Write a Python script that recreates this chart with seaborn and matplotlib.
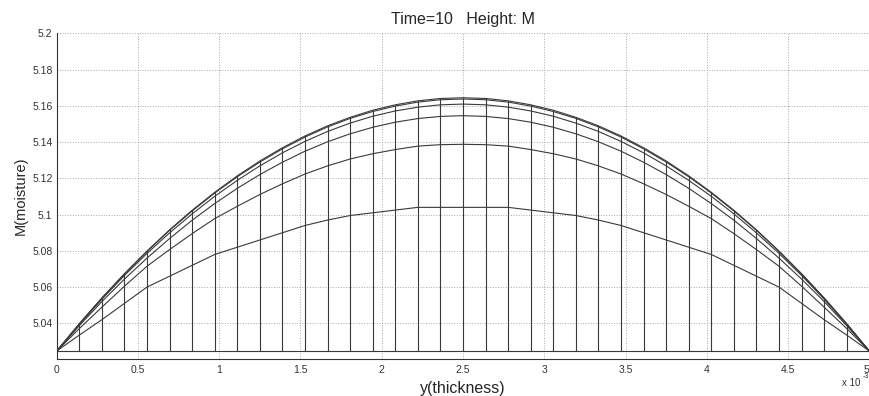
import matplotlib
matplotlib.use('Agg')
import matplotlib.pyplot as plt
import seaborn as sns
import pandas as pd

# grid along the thickness (units of 1e-3)
thickness = [0, 0.1389, 0.2778, 0.4167, 0.5556, 0.6944, 0.8333, 0.9722, 1.1111,
             1.25, 1.3889, 1.5278, 1.6667, 1.8056, 1.9444, 2.0833, 2.2222, 2.3611,
             2.5, 2.6389, 2.7778, 2.9167, 3.0556, 3.1944, 3.3333, 3.4722, 3.6111,
             3.75, 3.8889, 4.0278, 4.1667, 4.3056, 4.4444, 4.5833, 4.7222, 4.8611, 5]

# moisture rows of the mesh
m_row0 = [5.0247] * 37
m_row1 = [5.0247, 5.0335, 5.0420, 5.0510, 5.0600, 5.0660, 5.0720, 5.0780, 5.0820,
          5.0860, 5.0900, 5.0940, 5.0970, 5.0995, 5.1010, 5.1025, 5.1040, 5.1040,
          5.1040, 5.1040, 5.1040, 5.1025, 5.1010, 5.0995, 5.0970, 5.0940, 5.0900,
          5.0860, 5.0820, 5.0780, 5.0720, 5.0660, 5.0600, 5.0510, 5.0420, 5.0335, 5.0247]
m_row2 = [5.0247, 5.0371, 5.0489, 5.0605, 5.0715, 5.0807, 5.0895, 5.0978, 5.1046,
          5.1111, 5.1170, 5.1224, 5.1269, 5.1307, 5.1336, 5.1359, 5.1378, 5.1386,
          5.1388, 5.1386, 5.1378, 5.1359, 5.1336, 5.1307, 5.1269, 5.1224, 5.1170,
          5.1111, 5.1046, 5.0978, 5.0895, 5.0807, 5.0715, 5.0605, 5.0489, 5.0371, 5.0247]
m_row3 = [5.0247, 5.0387, 5.0520, 5.0644, 5.0760, 5.0868, 5.0969, 5.1061, 5.1145,
          5.1221, 5.1289, 5.1350, 5.1402, 5.1446, 5.1482, 5.1510, 5.1530, 5.1542,
          5.1546, 5.1542, 5.1530, 5.1510, 5.1482, 5.1446, 5.1402, 5.1350, 5.1289,
          5.1221, 5.1145, 5.1061, 5.0969, 5.0868, 5.0760, 5.0644, 5.0520, 5.0387, 5.0247]
m_row4 = [5.0247, 5.0394, 5.0533, 5.0664, 5.0786, 5.0899, 5.1004, 5.1101, 5.1189,
          5.1269, 5.1341, 5.1404, 5.1459, 5.1505, 5.1543, 5.1572, 5.1593, 5.1606,
          5.1610, 5.1606, 5.1593, 5.1572, 5.1543, 5.1505, 5.1459, 5.1404, 5.1341,
          5.1269, 5.1189, 5.1101, 5.1004, 5.0899, 5.0786, 5.0664, 5.0533, 5.0394, 5.0247]
m_row5 = [5.0247, 5.0397, 5.0539, 5.0672, 5.0797, 5.0913, 5.1020, 5.1119, 5.1209,
          5.1290, 5.1363, 5.1428, 5.1484, 5.1531, 5.1569, 5.1599, 5.1621, 5.1634,
          5.1638, 5.1634, 5.1621, 5.1599, 5.1569, 5.1531, 5.1484, 5.1428, 5.1363,
          5.1290, 5.1209, 5.1119, 5.1020, 5.0913, 5.0797, 5.0672, 5.0539, 5.0397, 5.0247]
m_row6 = [5.0247, 5.0398, 5.0540, 5.0674, 5.0799, 5.0916, 5.1024, 5.1123, 5.1214,
          5.1296, 5.1369, 5.1434, 5.1490, 5.1537, 5.1576, 5.1606, 5.1628, 5.1641,
          5.1645, 5.1641, 5.1628, 5.1606, 5.1576, 5.1537, 5.1490, 5.1434, 5.1369,
          5.1296, 5.1214, 5.1123, 5.1024, 5.0916, 5.0799, 5.0674, 5.0540, 5.0398, 5.0247]

x_ticks = [0, 0.5, 1, 1.5, 2, 2.5, 3, 3.5, 4, 4.5, 5]
x_tick_labels = ['0', '0.5', '1', '1.5', '2', '2.5', '3', '3.5', '4', '4.5', '5']
y_ticks = [5.04, 5.06, 5.08, 5.1, 5.12, 5.14, 5.16, 5.18, 5.2]
y_tick_labels = ['5.04', '5.06', '5.08', '5.1', '5.12', '5.14', '5.16', '5.18', '5.2']

rows = [m_row0, m_row1, m_row2, m_row3, m_row4, m_row5, m_row6]
frames = []
for r, vals in enumerate(rows):
    frames.append(pd.DataFrame({'y': thickness, 'M': vals, 'row': r,
                                'col': list(range(len(thickness)))}))
df = pd.concat(frames, ignore_index=True)

sns.set_style('white')
plt.rcParams['font.family'] = ['Liberation Sans', 'DejaVu Sans']

fig = plt.figure(figsize=(8.7, 3.96), dpi=100)
ax = fig.add_axes([0.0652, 0.0934, 0.934, 0.8222])

line_col = '#3a3a3a'
# mesh columns (vertical) and rows (curves)
sns.lineplot(data=df, x='y', y='M', units='col', estimator=None, orient='y',
             color=line_col, lw=0.8, ax=ax)
sns.lineplot(data=df, x='y', y='M', units='row', estimator=None,
             color=line_col, lw=0.8, ax=ax)

ax.set_xlim(0, 5)
ax.set_ylim(5.0203, 5.2)
ax.set_xticks(x_ticks)
ax.set_xticklabels(x_tick_labels)
ax.set_yticks(y_ticks)
ax.set_yticklabels(y_tick_labels)
ax.tick_params(direction='in', length=4, width=0.8, labelsize=7.5,
               colors='#333333', pad=3)
ax.tick_params(axis='x', pad=4)
# last label sits on the figure edge
ax.get_xticklabels()[-1].set_horizontalalignment('right')

ax.grid(True, linestyle=':', color='#a8a8a8', lw=0.7)
ax.set_axisbelow(True)
for s in ['top', 'right']:
    ax.spines[s].set_visible(False)
for s in ['left', 'bottom']:
    ax.spines[s].set_color('#333333')
    ax.spines[s].set_linewidth(0.8)

ax.set_title('Time=10   Height: M', fontsize=11.5, pad=7)
ax.set_xlabel('y(thickness)', fontsize=11.5)
ax.xaxis.set_label_coords(0.5, -0.068)
ax.set_ylabel('M(moisture)', fontsize=10.5)
ax.yaxis.set_label_coords(-0.036, 0.5)

fig.text(842 / 870, 1 - 386 / 396, 'x 10', fontsize=7, color='#333333',
         ha='left', va='baseline')
fig.text(869 / 870, 1 - 378 / 396, '-3', fontsize=5, color='#333333',
         ha='right', va='baseline')

fig.savefig('out.png', dpi=100)
